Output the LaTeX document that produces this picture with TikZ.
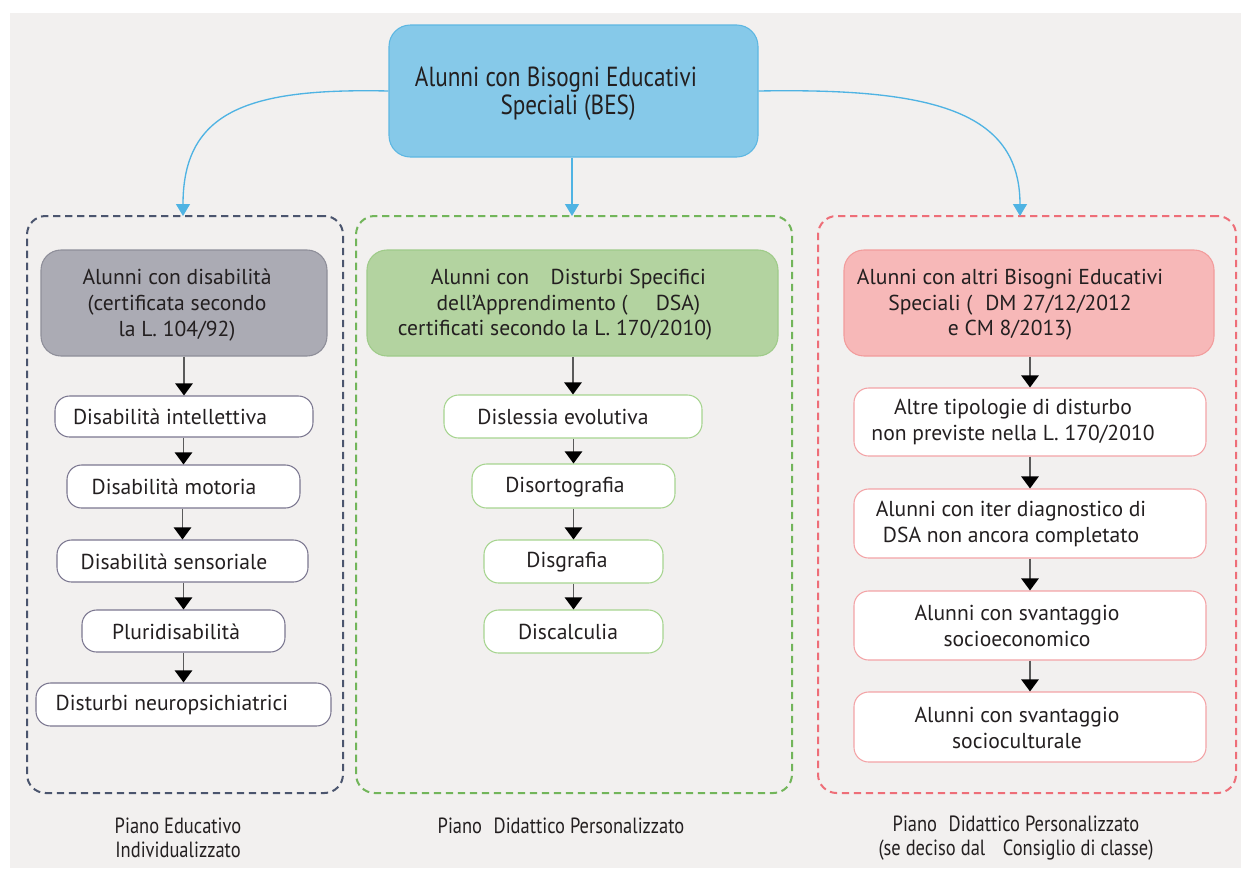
\documentclass[tikz,border=0pt]{standalone}
\usepackage{fontspec}
\setmainfont{PT Sans}
\newfontfamily\condfont[FakeStretch=0.84]{PT Sans}
\usetikzlibrary{arrows.meta}
\definecolor{bg}{HTML}{F2F0EF}
\definecolor{ink}{HTML}{231F20}
\definecolor{topfill}{HTML}{86C9E9}
\definecolor{topdraw}{HTML}{5DB7E2}
\definecolor{bluelink}{HTML}{4FB3E3}
\definecolor{navydash}{HTML}{4B556E}
\definecolor{greendash}{HTML}{72B55A}
\definecolor{reddash}{HTML}{EE6E78}
\definecolor{grayhead}{HTML}{ABABB4}
\definecolor{grayheadd}{HTML}{8E8E99}
\definecolor{greenhead}{HTML}{B3D3A0}
\definecolor{greenheadd}{HTML}{9FCB89}
\definecolor{pinkhead}{HTML}{F7B8B8}
\definecolor{pinkheadd}{HTML}{F29C9C}
\definecolor{leftitem}{HTML}{7B7790}
\definecolor{miditem}{HTML}{A6D48F}
\definecolor{rightitem}{HTML}{F3A3A6}
\definecolor{arrgray}{HTML}{5A5A5A}
\begin{document}
\begin{tikzpicture}[x=0.75pt,y=-0.75pt,
  sz/.style 2 args={minimum width=#1*0.75pt, minimum height=#2*0.75pt},
  box/.style={rounded corners=11pt, line width=0.8pt, inner sep=0pt, fill=white},
  headbox/.style={rounded corners=15pt, line width=0.8pt, inner sep=0pt},
  cont/.style={rounded corners=14pt, line width=1.5pt, dash pattern=on 5.5pt off 3.5pt, inner sep=0pt},
  txt/.style={font=\fontsize{16.2}{19.2}\selectfont, align=center, text=ink, inner sep=0pt},
  toptxt/.style={font=\condfont\fontsize{20.7}{21}\selectfont, align=center, text=ink, inner sep=0pt},
  bottxt/.style={font=\condfont\fontsize{16.5}{18}\selectfont, align=center, text=ink, inner sep=0pt},
  arr/.style={draw=arrgray, line width=1.1pt, -{Triangle[width=13pt,length=9pt,color=black]}},
  bluearr/.style={draw=bluelink, line width=1pt, -{Triangle[width=10.5pt,length=9pt,color=bluelink]}}
]
% background
\fill[white] (0,0) rectangle (1241,868);
\fill[bg] (10,13) rectangle (1241,868);

% top node
\node[headbox, rounded corners=16pt, fill=topfill, draw=topdraw, sz={369}{132}] (bes) at (573.5,91) {};
\node[toptxt] (best) at (556,94) {Alunni con Bisogni Educativi\\\hspace*{18pt}Speciali (BES)};

% containers
\node[cont, draw=navydash, sz={316}{577}] (c1) at (185,504.5) {};
\node[cont, draw=greendash, sz={436}{577}] (c2) at (574,504.5) {};
\node[cont, draw=reddash, sz={418}{577}] (c3) at (1027,504.5) {};

\coordinate (t1) at (183,216);
\coordinate (t2) at (572,216);
\coordinate (t3) at (1020,216);
\draw[bluearr] (bes.west) .. controls (250,88) and (183,110) .. (t1);
\draw[bluearr] (bes.south -| t2) -- (t2);
\draw[bluearr] (bes.east) .. controls (930,88) and (1020,110) .. (t3);

% headers
\node[headbox, fill=grayhead, draw=grayheadd, sz={286}{106}] (h1) at (184,303) {};
\node[txt] (h1t) at (177,305) {Alunni con disabilità\\(certificata secondo\\la L. 104/92)};
\node[headbox, fill=greenhead, draw=greenheadd, sz={411}{106}] (h2) at (572.5,303) {};
\node[txt] (h2t) at (555,305) {\hspace*{20pt}Alunni con\hspace{1em}Disturbi Specifici\\\hspace*{20pt}dell’Apprendimento (\hspace{1.3em}DSA)\\certificati secondo la L. 170/2010)};
\node[headbox, fill=pinkhead, draw=pinkheadd, sz={370}{106}] (h3) at (1029,303) {};
\node[txt] (h3t) at (1010,305) {Alunni con altri Bisogni Educativi\\Speciali (\hspace{0.6em}DM 27/12/2012\\e CM 8/2013)};

% left items
\node[box, draw=leftitem, sz={258}{41}] (l1) at (184,416.5) {};
\node[txt] (l1t) at (170,417) {Disabilità intellettiva};
\node[box, draw=leftitem, sz={233}{43}] (l2) at (183.5,486.5) {};
\node[txt] (l2t) at (174,487) {Disabilità motoria};
\node[box, draw=leftitem, sz={251}{42}] (l3) at (182.5,561) {};
\node[txt] (l3t) at (174,561.5) {Disabilità sensoriale};
\node[box, draw=leftitem, sz={203}{42}] (l4) at (183.5,631) {};
\node[txt] (l4t) at (176,631.5) {Pluridisabilità};
\node[box, draw=leftitem, sz={295}{43}] (l5) at (183.5,704.5) {};
\node[txt] (l5t) at (172,705) {Disturbi neuropsichiatrici};

\draw[arr] (h1.south -| l1.north) -- (l1.north);
\draw[arr] (l1.south -| l2.north) -- (l2.north);
\draw[arr] (l2.south -| l3.north) -- (l3.north);
\draw[arr] (l3.south -| l4.north) -- (l4.north);
\draw[arr] (l4.south -| l5.north) -- (l5.north);

% middle items
\node[box, draw=miditem, sz={258}{43}] (m1) at (573,416.5) {};
\node[txt] (m1t) at (563,417) {Dislessia evolutiva};
\node[box, draw=miditem, sz={203}{44}] (m2) at (573.5,486) {};
\node[txt] (m2t) at (565,487) {Disortografia};
\node[box, draw=miditem, sz={179}{43}] (m3) at (573.5,561.5) {};
\node[txt] (m3t) at (567,562) {Disgrafia};
\node[box, draw=miditem, sz={179}{43}] (m4) at (573.5,631.5) {};
\node[txt] (m4t) at (568,632) {Discalculia};

\draw[arr] (h2.south -| m1.north) -- (m1.north);
\draw[arr] (m1.south -| m2.north) -- (m2.north);
\draw[arr] (m2.south -| m3.north) -- (m3.north);
\draw[arr] (m3.south -| m4.north) -- (m4.north);

% right items
\node[box, draw=rightitem, sz={352}{68}] (r1) at (1030,422) {};
\node[txt] (r1t) at (1013,422) {Altre tipologie di disturbo\\non previste nella L. 170/2010};
\node[box, draw=rightitem, sz={352}{69}] (r2) at (1030,523.5) {};
\node[txt] (r2t) at (1011,524) {Alunni con iter diagnostico di\\DSA non ancora completato};
\node[box, draw=rightitem, sz={352}{69}] (r3) at (1030,625.5) {};
\node[txt] (r3t) at (1017,626) {Alunni con svantaggio\\socioeconomico};
\node[box, draw=rightitem, sz={352}{70}] (r4) at (1030,727) {};
\node[txt] (r4t) at (1017,728) {Alunni con svantaggio\\socioculturale};

\draw[arr] (h3.south -| r1.north) -- (r1.north);
\draw[arr] (r1.south) -- (r2.north);
\draw[arr] (r2.south) -- (r3.north);
\draw[arr] (r3.south) -- (r4.north);

% bottom labels
\node[bottxt] (b1) at (178,838) {Piano Educativo\\Individualizzato};
\node[bottxt] (b2) at (561,826) {Piano\hspace{0.3em} Didattico Personalizzato};
\node[bottxt] (b3) at (1016,838) {Piano\hspace{0.3em} Didattico Personalizzato\\(se deciso dal\hspace{0.8em}Consiglio di classe)};
\end{tikzpicture}
\end{document}
